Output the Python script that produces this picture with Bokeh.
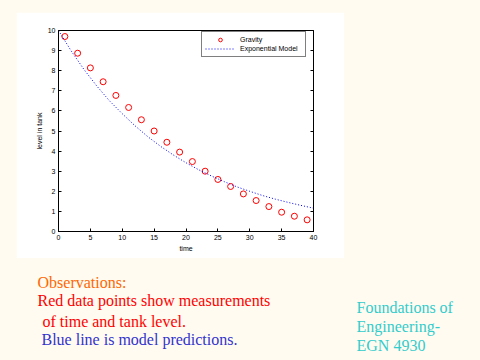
from bokeh.plotting import figure
from bokeh.layouts import column, row
from bokeh.models import (Range1d, LinearAxis, FixedTicker, Label, Legend, LegendItem,
                          Spacer)
from bokeh.embed import file_html
from bokeh.resources import INLINE

# measured data (time, tank level)
t_meas = [1, 3, 5, 7, 9, 11, 13, 15, 17, 19, 21, 23, 25, 27, 29, 31, 33, 35, 37, 39]
level_meas = [9.70, 8.87, 8.14, 7.45, 6.77, 6.17, 5.56, 5.00, 4.44, 3.95,
              3.48, 3.00, 2.59, 2.24, 1.87, 1.54, 1.24, 0.96, 0.76, 0.58]

# exponential model
t_model = [0, 2, 4, 6, 8, 10, 12, 14, 16, 18, 20, 22, 24, 26, 28, 30, 32, 34, 36, 38, 40]
level_model = [10.0, 8.98, 8.06, 7.24, 6.50, 5.86, 5.26, 4.72, 4.24, 3.81, 3.42,
               3.07, 2.76, 2.48, 2.22, 2.00, 1.79, 1.61, 1.45, 1.30, 1.16]

x_ticks = [0, 5, 10, 15, 20, 25, 30, 35, 40]
y_ticks = [0, 1, 2, 3, 4, 5, 6, 7, 8, 9, 10]

legend_labels = ["Gravity", "Exponential Model"]
x_label = "time"
y_label = "level in tank"

notes_left = ["Observations:", "Red data points show measurements",
              "of time and tank level.", "Blue line is model predictions."]
notes_left_colors = ["#FF6600", "#FF0000", "#FF0000", "#3333CC"]
notes_right = ["Foundations of", "Engineering-", "EGN 4930"]

CREAM = "#FFFBF0"
BG = {"background-color": CREAM}

# ---- chart panel (white) ----
p = figure(width=328, height=246, output_backend="svg", toolbar_location=None,
           x_range=Range1d(0, 40), y_range=Range1d(0, 10),
           min_border_left=42, min_border_right=31, min_border_top=18,
           min_border_bottom=27, x_axis_label=x_label, y_axis_label=y_label)
p.border_fill_color = "white"
p.background_fill_color = "white"
p.outline_line_color = "black"
p.xgrid.visible = False
p.ygrid.visible = False

def style_axis(ax, ticks, labels=True):
    ax.ticker = FixedTicker(ticks=ticks)
    ax.major_tick_in = 3
    ax.major_tick_out = 0
    ax.minor_tick_line_color = None
    ax.axis_line_color = "black"
    ax.major_tick_line_color = "black"
    ax.major_label_text_font = "Liberation Sans"
    ax.major_label_text_font_size = "7px"
    ax.major_label_text_color = "black" if labels else None
    ax.major_label_standoff = 3
    ax.axis_label_text_font = "Liberation Sans"
    ax.axis_label_text_font_size = "7px"
    ax.axis_label_text_font_style = "normal"
    ax.axis_label_text_color = "black"
    ax.axis_label_standoff = 2

style_axis(p.xaxis[0], x_ticks)
style_axis(p.yaxis[0], y_ticks)
rax = LinearAxis()
style_axis(rax, y_ticks, labels=False)
rax.major_label_standoff = 0
p.add_layout(rax, "right")

r_meas = p.scatter(t_meas, level_meas, marker="circle", size=6, fill_color=None,
                   line_color="#FF0000", line_width=1)
r_model = p.line(t_model, level_model, line_color="#0000FF", line_width=1,
                 line_dash="1 2")

legend = Legend(items=[LegendItem(label=legend_labels[0], renderers=[r_meas]),
                       LegendItem(label=legend_labels[1], renderers=[r_model])],
                location=(143, 174), border_line_color="black", border_line_width=1,
                background_fill_color="white", background_fill_alpha=1.0,
                label_text_font="Liberation Sans", label_text_font_size="7px",
                label_text_color="black",
                glyph_width=30, glyph_height=9, label_height=9, label_width=62,
                label_standoff=5, spacing=0, padding=3, margin=0)
p.add_layout(legend)

# ---- notes below the chart ----
t = figure(width=480, height=102, output_backend="svg", toolbar_location=None,
           x_range=Range1d(0, 480), y_range=Range1d(360, 258),
           x_axis_type=None, y_axis_type=None, min_border=0)
t.border_fill_color = CREAM
t.background_fill_color = CREAM
t.outline_line_color = None
t.xgrid.visible = False
t.ygrid.visible = False

left_base = [281.7, 300.0, 320.7, 339.3]
left_x = [37, 37, 42, 41]
for txt, col, xx, yy in zip(notes_left, notes_left_colors, left_x, left_base):
    t.add_layout(Label(x=xx, y=yy, text=txt, text_color=col,
                       text_font="Liberation Serif", text_font_size="16px",
                       text_baseline="alphabetic"))
right_base = [306.7, 326.0, 345.0]
for txt, yy in zip(notes_right, right_base):
    t.add_layout(Label(x=356, y=yy, text=txt, text_color="#33CCCC",
                       text_font="Liberation Serif", text_font_size="16px",
                       text_baseline="alphabetic"))

layout = column(
    Spacer(width=480, height=12, styles=BG),
    row(Spacer(width=16, height=246, styles=BG), p,
        Spacer(width=136, height=246, styles=BG), spacing=0, styles=BG),
    t,
    spacing=0, styles=BG)

open("out.html", "w").write(file_html(layout, INLINE))
